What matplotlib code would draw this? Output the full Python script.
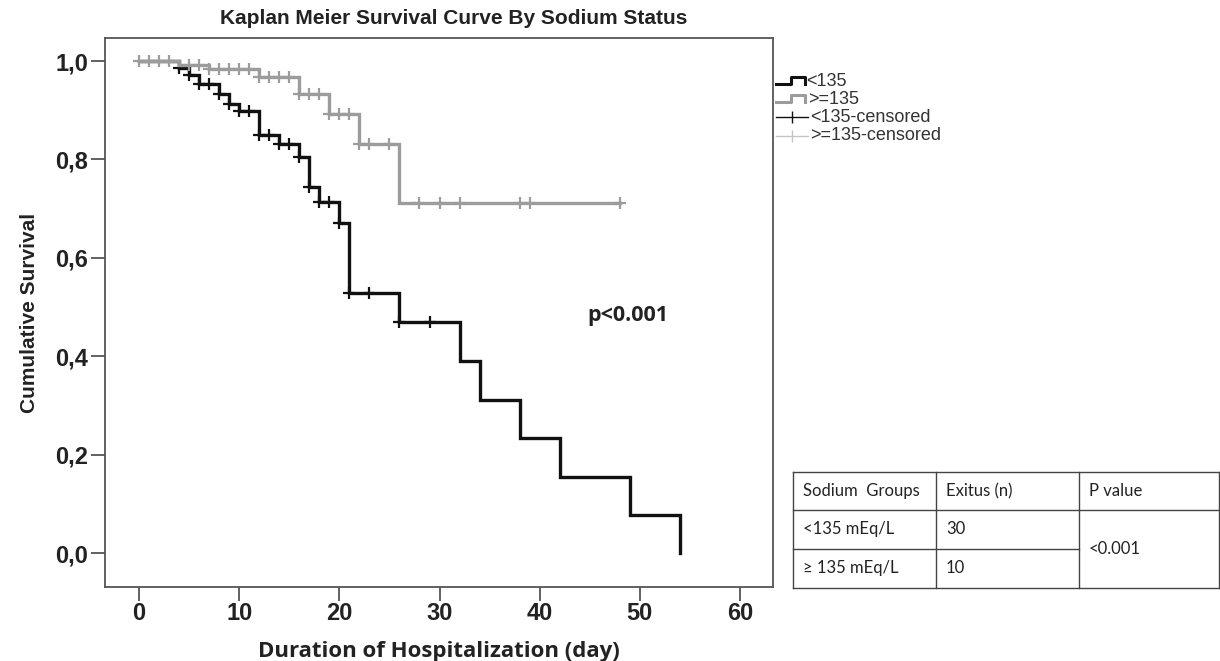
import matplotlib
matplotlib.use('Agg')
import matplotlib.pyplot as plt
import numpy as np
from matplotlib.lines import Line2D

# Kaplan-Meier step values
low_times = [0, 4, 5, 6, 8, 9, 10, 12, 14, 16, 17, 18, 20, 21, 26, 32, 34, 38, 42, 49, 54]
low_surv = [1.0, 0.985, 0.972, 0.954, 0.934, 0.912, 0.898, 0.850, 0.831, 0.806, 0.745,
            0.714, 0.670, 0.528, 0.469, 0.390, 0.311, 0.233, 0.155, 0.078, 0.0]
low_censor = [4, 5, 6, 7, 8, 9, 10, 11, 12, 13, 14, 15, 16, 17, 18, 19, 20, 21, 23, 26, 29]

high_times = [0, 4, 7, 12, 16, 19, 22, 26, 48]
high_surv = [1.0, 0.992, 0.984, 0.968, 0.933, 0.892, 0.831, 0.711, 0.711]
high_censor = [0, 1, 2, 3, 5, 6, 7, 8, 9, 10, 11, 12, 13, 14, 15, 16, 17, 18, 19, 20,
               21, 22, 23, 25, 28, 30, 32, 38, 39, 48]

xticks = [0, 10, 20, 30, 40, 50, 60]
yticks = [0.0, 0.2, 0.4, 0.6, 0.8, 1.0]
ytick_labels = ['0,0', '0,2', '0,4', '0,6', '0,8', '1,0']

legend_labels = ['<135', '>=135', '<135-censored', '>=135-censored']

table_header = ['Sodium  Groups', 'Exitus (n)', 'P value']
table_groups = ['<135 mEq/L', '\u2265 135 mEq/L']
table_exitus = ['30', '10']
table_p = '<0.001'

BLACK = '#111111'
GRAY = '#9c9c9c'
LIGHT = '#c4c4c4'


def level_at(times, surv, t):
    i = np.searchsorted(times, t, side='right') - 1
    return surv[i]


fig = plt.figure(figsize=(12.2, 6.61), dpi=100)
ax = fig.add_axes([0.0861, 0.1120, 0.5475, 0.8306])

ax.plot(low_times, low_surv, drawstyle='steps-post', color=BLACK, lw=2.4, solid_joinstyle='miter')
ax.plot(low_censor, [level_at(low_times, low_surv, t) for t in low_censor], ls='none',
        marker='+', ms=9, mew=1.6, color=BLACK)
ax.plot(high_times, high_surv, drawstyle='steps-post', color=GRAY, lw=2.4, solid_joinstyle='miter')
ax.plot(high_censor, [level_at(high_times, high_surv, t) for t in high_censor], ls='none',
        marker='+', ms=9, mew=1.6, color=GRAY)

ax.set_xlim(-3.4, 63.3)
ax.set_ylim(-0.069, 1.047)
ax.set_xticks(xticks)
ax.set_yticks(yticks)
ax.set_yticklabels(ytick_labels)
for s in ax.spines.values():
    s.set_color('#555555')
    s.set_linewidth(1.3)
ax.tick_params(axis='both', direction='out', length=10, width=1.3, color='#555555')
ax.tick_params(axis='x', pad=1)
ax.tick_params(axis='y', pad=2)
for lab in ax.get_xticklabels() + ax.get_yticklabels():
    lab.set_fontfamily('Liberation Sans')
    lab.set_fontsize(17)
    lab.set_fontweight('bold')
    lab.set_color('#222222')

ax.set_xlabel('Duration of Hospitalization (day)', fontfamily='Open Sans', fontweight='bold',
              fontsize=16, labelpad=11, color='#222222')
ax.set_ylabel('Cumulative Survival', fontfamily=['Liberation Sans Narrow', 'Liberation Sans'],
              fontweight='bold', fontsize=15, labelpad=12, color='#222222')
fig.text(454 / 1220, 1 - 18 / 661, 'Kaplan Meier Survival Curve By Sodium Status',
         fontfamily='Liberation Sans', fontweight='bold', fontsize=15, ha='center',
         va='center', color='#222222')

ax.text(44.8, 0.482, 'p<0.001', fontfamily='Open Sans', fontweight='bold', fontsize=15.5,
        va='center', ha='left', color='#222222')

# legend drawn outside the frame, in pixel-based figure coordinates
W, H = 1220.0, 661.0


def fx(px):
    return px / W


def fy(py):
    return 1 - py / H


leg_y = [81, 99, 117, 136]
# step icons
for y, col in zip(leg_y[:2], [BLACK, GRAY]):
    fig.add_artist(Line2D([fx(776), fx(791), fx(791), fx(805), fx(805)],
                          [fy(y + 3), fy(y + 3), fy(y - 4), fy(y - 4), fy(y + 3)],
                          transform=fig.transFigure, color=col, lw=2.2))
# censored icons
for y, col in zip(leg_y[2:], [BLACK, LIGHT]):
    fig.add_artist(Line2D([fx(776), fx(808)], [fy(y), fy(y)], transform=fig.transFigure,
                          color=col, lw=1.0))
    fig.add_artist(Line2D([fx(792)], [fy(y)], transform=fig.transFigure, color=col,
                          marker='|', ms=9, mew=1.0))
for y, lab, xo in zip(leg_y, legend_labels, [806, 808, 810, 810]):
    fig.text(fx(xo), fy(y), lab, fontfamily='Liberation Sans', fontsize=13, va='center',
             ha='left', color='#333333')

# table
col_x = [793, 936, 1079, 1219]
row_y = [472, 510, 549, 588]
lc = '#444444'
for y in row_y:
    fig.add_artist(Line2D([fx(col_x[0]), fx(col_x[3] if y in (472, 510, 588) else col_x[2])],
                          [fy(y), fy(y)], transform=fig.transFigure, color=lc, lw=1.0))
for x in col_x:
    fig.add_artist(Line2D([fx(x), fx(x)], [fy(row_y[0]), fy(row_y[3])],
                          transform=fig.transFigure, color=lc, lw=1.0))

tfont = dict(fontfamily='Lato', fontsize=12, va='center', ha='left', color='#222222')
for x, lab in zip(col_x[:3], table_header):
    fig.text(fx(x + 10), fy(491), lab, **tfont)
for i in range(2):
    fig.text(fx(col_x[0] + 10), fy(row_y[i + 1] + 19), table_groups[i], **tfont)
    fig.text(fx(col_x[1] + 10), fy(row_y[i + 1] + 19), table_exitus[i], **tfont)
fig.text(fx(col_x[2] + 10), fy(549), table_p, **tfont)

fig.savefig('out.png', dpi=100)
